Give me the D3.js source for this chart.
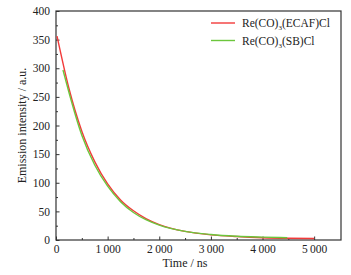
<!DOCTYPE html>
<html>
<head>
<meta charset="utf-8">
<script src="https://cdn.jsdelivr.net/npm/d3@7"></script>
<style>
  body { margin: 0; background: #fff; }
  text { font-family: "Liberation Serif", "Times New Roman", serif; fill: #222; }
</style>
</head>
<body>
<div id="graph"></div>
<script>
// data
const timeRed = [20, 250, 500, 750, 1000, 1250, 1500, 1750, 2000, 2500, 3000, 3500, 4000, 4500, 5000];
const valRed = [356, 265, 190, 137, 98, 70, 51, 37, 27, 15, 9, 6, 4, 3, 2.5];
const timeGreen = [135, 250, 500, 750, 1000, 1250, 1500, 1750, 2000, 2500, 3000, 3500, 4000, 4480];
const valGreen = [297, 258, 183, 131, 94, 67, 48, 35, 26, 15, 9.5, 6.5, 5, 4];
const xTicks = [0, 1000, 2000, 3000, 4000, 5000];
const yTicks = [0, 50, 100, 150, 200, 250, 300, 350, 400];
const seriesNames = ["Re(CO)3(ECAF)Cl", "Re(CO)3(SB)Cl"];
const colors = ["#f23a3a", "#6cc63c"];

const margin = { top: 11, right: 10, bottom: 35, left: 56 },
    width = 351 - margin.left - margin.right,
    height = 275 - margin.top - margin.bottom;

let svg = d3.select("#graph")
    .append("svg")
    .attr("width", 351)
    .attr("height", 275)
    .append("g")
    .attr("transform", "translate(" + margin.left + "," + margin.top + ")");

let x = d3.scaleLinear().domain([0, 5520]).range([0, width]);
let y = d3.scaleLinear().domain([0, 400]).range([height, 0]);

// minor ticks
svg.append("g")
    .attr("transform", "translate(0," + height + ")")
    .call(d3.axisBottom(x).tickValues(d3.range(500, 5500, 1000)).tickSize(-2).tickFormat(""))
    .call(g => g.select(".domain").remove());
svg.append("g")
    .call(d3.axisLeft(y).tickValues(d3.range(25, 400, 50)).tickSize(-2).tickFormat(""))
    .call(g => g.select(".domain").remove());

// X axis
svg.append("g")
    .attr("transform", "translate(0," + height + ")")
    .call(d3.axisBottom(x).tickValues(xTicks).tickSize(-3.5).tickPadding(5)
        .tickFormat(d => d3.format(",")(d).replace(",", "\u2009")))
    .call(g => g.select(".domain").remove())
    .selectAll("text")
    .attr("font-size", "11.5px");

// Y axis
svg.append("g")
    .call(d3.axisLeft(y).tickValues(yTicks).tickSize(-3.5).tickPadding(6))
    .call(g => g.select(".domain").remove())
    .selectAll("text")
    .attr("font-size", "11.5px");

svg.selectAll(".tick line").attr("stroke", "#333");

// frame
svg.append("rect")
    .attr("width", width)
    .attr("height", height)
    .attr("fill", "none")
    .attr("stroke", "#333")
    .attr("stroke-width", 1.2);

// axis titles
svg.append("text")
    .attr("x", x(2500))
    .attr("y", height + 27)
    .style("text-anchor", "middle")
    .attr("font-size", "12px")
    .text("Time / ns");

svg.append("text")
    .attr("transform", "rotate(-90)")
    .attr("x", -height / 2)
    .attr("y", -30)
    .style("text-anchor", "middle")
    .attr("font-size", "12px")
    .text("Emission intensity / a.u.");

// lines
let line = d3.line()
    .x(d => x(d[0]))
    .y(d => y(d[1]))
    .curve(d3.curveMonotoneX);

let series = [
    d3.zip(timeRed, valRed),
    d3.zip(timeGreen, valGreen)
];

series.forEach((s, i) => {
    svg.append("path")
        .datum(s)
        .attr("d", line)
        .attr("stroke", colors[i])
        .style("stroke-width", 1.4)
        .style("fill", "none");
});

// legend
seriesNames.forEach((name, i) => {
    let ly = 12 + i * 17.5;
    svg.append("line")
        .attr("x1", 155).attr("x2", 179)
        .attr("y1", ly).attr("y2", ly)
        .attr("stroke", colors[i])
        .attr("stroke-width", 1.4);
    let parts = name.split("3");
    let t = svg.append("text")
        .attr("x", 186)
        .attr("y", ly + 4)
        .attr("font-size", "11.5px");
    t.append("tspan").text(parts[0]);
    t.append("tspan").attr("font-size", "7px").attr("dy", 3).text("3");
    t.append("tspan").attr("dy", -3).text(parts[1]);
});
</script>
</body>
</html>
